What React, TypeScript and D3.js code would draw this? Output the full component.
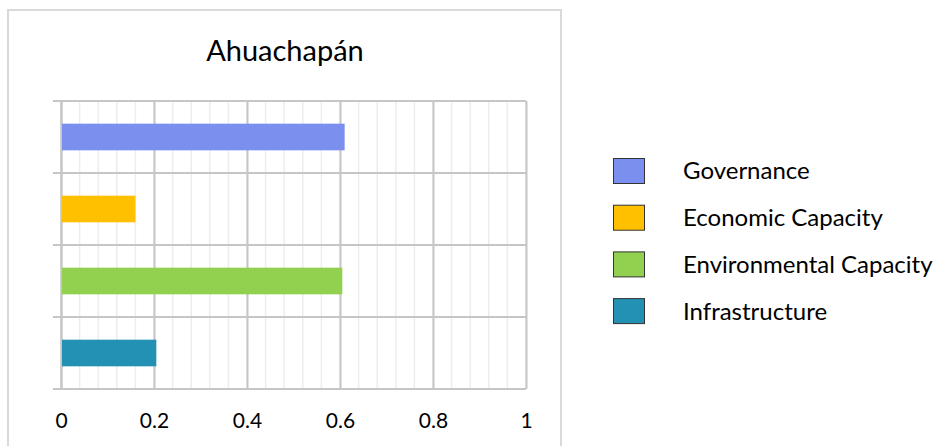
import React, { useEffect, useRef } from "react";
import { select, scaleBand, scaleLinear, axisBottom, axisLeft, range, format } from "d3";

const title = "Ahuachapán";
const categories = ["Governance", "Economic Capacity", "Environmental Capacity", "Infrastructure"];
const values = [0.61, 0.16, 0.605, 0.205];
const colors = ["#7a8fee", "#ffc000", "#92d050", "#2291b4"];
const xTicks = [0, 0.2, 0.4, 0.6, 0.8, 1];

const W = 941;
const H = 446;
const FONT = "Lato, 'Open Sans', sans-serif";

export default function App() {
  const svgRef = useRef<SVGSVGElement>(null);

  useEffect(() => {
    const svg = select(svgRef.current);
    svg.selectAll("*").remove();

    const left = 61, right = 526, top = 101, bottom = 389;

    const x = scaleLinear().domain([0, 1]).range([left, right]);
    const y = scaleBand<string>()
      .domain(categories)
      .range([top, bottom])
      .paddingInner(0.63)
      .paddingOuter(0.315);

    // outer frame (chart area border)
    svg.append("path")
      .attr("d", `M8,${H + 2}V10H561V${H + 2}`)
      .attr("fill", "none")
      .attr("stroke", "#d9d9d9")
      .attr("stroke-width", 2);

    svg.append("text")
      .attr("x", 285)
      .attr("y", 61)
      .attr("text-anchor", "middle")
      .style("font-family", FONT)
      .style("font-size", "29px")
      .attr("fill", "#000")
      .text(title);

    // minor vertical grid
    const minor = range(0, 1.0001, 0.04);
    svg.append("g")
      .selectAll("line")
      .data(minor)
      .join("line")
      .attr("x1", (d) => x(d))
      .attr("x2", (d) => x(d))
      .attr("y1", top)
      .attr("y2", bottom)
      .attr("stroke", "#ededed")
      .attr("stroke-width", 1.5);

    // major vertical grid
    svg.append("g")
      .attr("transform", `translate(0,${bottom})`)
      .call(axisBottom(x).tickValues(xTicks).tickSize(-(bottom - top)).tickFormat(() => ""))
      .call((g) => g.select(".domain").remove())
      .call((g) => g.selectAll(".tick line").attr("stroke", "#c6c6c6").attr("stroke-width", 2));

    // horizontal category boundaries with small ticks on the left
    const bounds = range(categories.length + 1).map((i) => top + i * y.step());
    svg.append("g")
      .selectAll("line")
      .data(bounds)
      .join("line")
      .attr("x1", left - 8)
      .attr("x2", right)
      .attr("y1", (d) => d)
      .attr("y2", (d) => d)
      .attr("stroke", "#c6c6c6")
      .attr("stroke-width", 2);

    svg.append("g")
      .attr("transform", `translate(${left},0)`)
      .call(axisLeft(y).tickSize(0).tickFormat(() => ""))
      .call((g) => g.select(".domain").attr("stroke", "#c6c6c6").attr("stroke-width", 2));

    // bars
    svg.append("g")
      .selectAll("rect")
      .data(categories)
      .join("rect")
      .attr("x", x(0) + 1)
      .attr("y", (d) => y(d)!)
      .attr("width", (d, i) => x(values[i]) - x(0) - 1)
      .attr("height", y.bandwidth())
      .attr("fill", (d, i) => colors[i]);

    // x tick labels
    svg.append("g")
      .attr("transform", `translate(0,${bottom})`)
      .call(axisBottom(x).tickValues(xTicks).tickSize(0).tickPadding(24).tickFormat(format("~g")))
      .call((g) => g.select(".domain").remove())
      .call((g) => g.selectAll("text")
        .style("font-family", FONT)
        .style("font-size", "21px")
        .attr("fill", "#000"));

    // legend
    const legend = svg.append("g")
      .selectAll("g")
      .data(categories)
      .join("g")
      .attr("transform", (d, i) => `translate(613,${171 + i * 46.7})`);
    legend.append("rect")
      .attr("x", 0.5)
      .attr("y", -12.5)
      .attr("width", 31)
      .attr("height", 25)
      .attr("fill", (d, i) => colors[i])
      .attr("stroke", "#333")
      .attr("stroke-width", 1);
    legend.append("text")
      .attr("x", 70)
      .attr("y", 0)
      .attr("dy", "0.35em")
      .style("font-family", FONT)
      .style("font-size", "24px")
      .attr("fill", "#000")
      .text((d) => d);
  }, []);

  return (
    <svg
      ref={svgRef}
      width={W}
      height={H}
      style={{ position: "absolute", left: 0, top: 0, background: "#fff" }}
    />
  );
}
